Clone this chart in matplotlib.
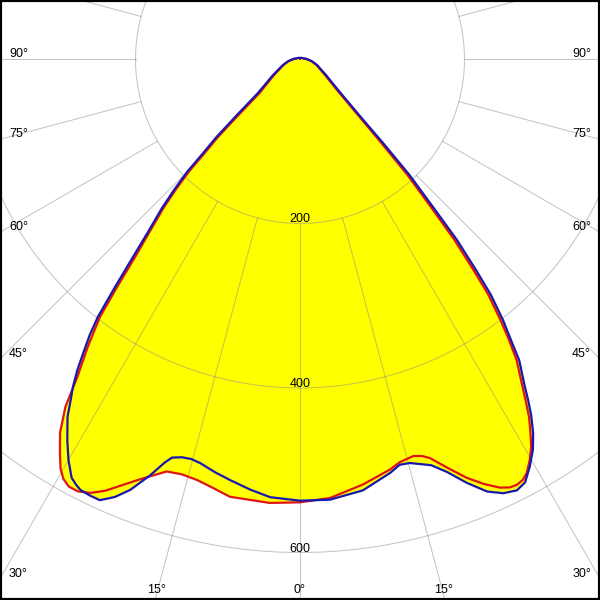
import numpy as np
import matplotlib
matplotlib.use("Agg")
import matplotlib.pyplot as plt

# (angle in degrees, intensity). Angle 0 points
# straight down, negative angles are on the left half.
red_points = [
    (-180, 1), (-135, 2), (-90, 8), (-80, 14), (-70.6, 21), (-58.4, 37),
    (-50.0, 64), (-47.68, 101), (-46.43, 138), (-45.3, 166), (-44.6, 193),
    (-43.54, 220), (-42.49, 246), (-41.02, 279), (-39.8, 313), (-38.75, 355),
    (-37.8, 397), (-36.4, 435), (-35.0, 472), (-34.0, 510), (-32.7, 540),
    (-31.35, 561), (-30.3, 577), (-29.4, 586), (-28.4, 591), (-27.2, 591),
    (-25.8, 586), (-24.3, 576), (-22.6, 561), (-21.0, 548), (-19.75, 539),
    (-17.9, 527), (-15.9, 525), (-13.7, 527), (-11.5, 532), (-9.1, 539),
    (-3.9, 541), (0, 539), (3.9, 535), (8.4, 523), (12.35, 511), (13.9, 505),
    (15.9, 502), (17.1, 505), (18.0, 510), (19.8, 528), (21.7, 548),
    (23.4, 563), (25.0, 575), (26.1, 580), (27.0, 581), (27.9, 579),
    (28.7, 574), (29.8, 562), (30.8, 549), (31.65, 534), (32.6, 517),
    (33.48, 497), (34.25, 480), (35.73, 451), (36.64, 426), (37.53, 400),
    (38.62, 367), (39.43, 332), (40.49, 289), (41.5, 240), (42.83, 192),
    (44.1, 142), (46.0, 98), (50.0, 59), (57.4, 36), (70.6, 21), (80, 14),
    (90, 8), (135, 2), (180, 1),
]
blue_points = [
    (-180, 1), (-135, 2), (-90, 8), (-80, 14), (-70.6, 22), (-59.3, 38),
    (-51.0, 66), (-48.4, 102), (-46.95, 139), (-45.74, 167), (-45.0, 194),
    (-43.88, 221), (-42.8, 247), (-41.3, 280), (-40.15, 315), (-39.05, 357),
    (-38.1, 398), (-37.3, 422), (-36.4, 444), (-35.6, 465), (-34.7, 485),
    (-33.8, 502), (-33.0, 519), (-31.4, 543), (-30.0, 563), (-28.6, 580),
    (-27.7, 585), (-27.0, 588), (-25.7, 589), (-24.4, 589), (-22.9, 578),
    (-21.5, 563), (-19.8, 538), (-18.5, 517), (-17.8, 509), (-16.5, 505),
    (-15.2, 504), (-13.9, 506), (-11.6, 513), (-9.4, 519), (-6.6, 527),
    (-3.9, 534), (0, 537), (3.9, 537), (8.3, 530), (12.3, 515), (13.8, 508),
    (15.2, 509), (17.9, 519), (19.6, 533), (21.5, 554), (23.4, 573),
    (25.1, 583), (26.7, 587), (28.0, 583), (29.4, 569), (30.8, 553),
    (31.93, 536), (33.0, 516), (33.77, 499), (34.56, 481), (36.04, 453),
    (36.9, 427), (37.87, 402), (38.98, 369), (39.83, 334), (40.94, 291),
    (41.94, 242), (43.35, 194), (44.66, 144), (46.5, 99), (50.8, 60),
    (58.4, 37), (70.6, 22), (80, 14), (90, 8), (135, 2), (180, 1),
]

ring_values = [200, 400, 600]
ring_labels = ["200", "400", "600"]
side_angles = [90, 75, 60, 45, 30]
bottom_angles = [-15, 0, 15]

W, H = 600, 600
cx, cy = 300, 59            # pole, pixels from top-left
px_per_unit = 164.5 / 200
rmax = 760
grid_color = (0.55, 0.55, 0.55, 0.5)

fig = plt.figure(figsize=(6, 6), dpi=100)
half = rmax * px_per_unit
ax = fig.add_axes([(cx - half) / W, (H - cy - half) / H, 2 * half / W, 2 * half / H],
                  projection="polar")
ax.set_theta_zero_location("S")
ax.set_theta_direction(1)
ax.set_ylim(0, rmax)
ax.set_xticks([])
ax.set_yticks([])
ax.spines["polar"].set_visible(False)

red_ang, red_val = zip(*red_points)
blue_ang, blue_val = zip(*blue_points)

# filled areas, then grid, then the two curves
for ang, val in [(red_ang, red_val), (blue_ang, blue_val)]:
    ax.fill(np.radians(ang), val, color="#ffff00", lw=0, zorder=1)

circle = np.linspace(0, 2 * np.pi, 721)
for r in ring_values:
    ax.plot(circle, np.full_like(circle, r), color=grid_color, lw=0.75, zorder=2.5)
for a in range(0, 360, 15):
    t = np.radians(a)
    ax.plot([t, t], [ring_values[0], rmax], color=grid_color, lw=0.75, zorder=2.5)

ax.plot(np.radians(red_ang), red_val, color="#e01414", lw=1.6, zorder=3)
ax.plot(np.radians(blue_ang), blue_val, color="#1818b0", lw=1.6, zorder=4)

font = dict(family="Liberation Sans", fontsize=9, color="black")

for r, lab in zip(ring_values, ring_labels):
    y = cy + r * px_per_unit - 1
    fig.text(cx / W, 1 - y / H, lab, ha="center", va="baseline", **font)

for a in side_angles:
    y = cy + cx / np.tan(np.radians(a)) - 2
    fig.text(9 / W, 1 - y / H, f"{a}°", ha="left", va="baseline", **font)
    fig.text(591 / W, 1 - y / H, f"{a}°", ha="right", va="baseline", **font)

for a in bottom_angles:
    yb = 593
    x = cx + (yb - cy) * np.tan(np.radians(a))
    fig.text(x / W, 1 - yb / H, f"{abs(a)}°", ha="center", va="baseline", **font)

fig.add_artist(plt.Rectangle((0, 0), 1, 1, transform=fig.transFigure,
                             fill=False, lw=3, ec="black", zorder=10))

fig.savefig("out.png", dpi=100)
